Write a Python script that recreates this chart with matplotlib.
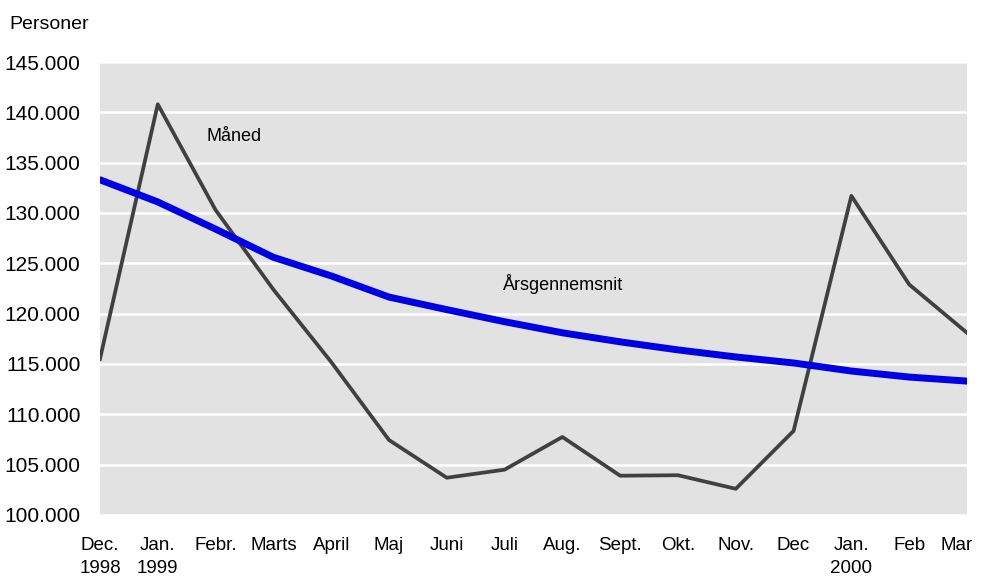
import numpy as np
import matplotlib
matplotlib.use('Agg')
import matplotlib.pyplot as plt
import matplotlib.transforms as mtransforms

plt.rcParams['font.family'] = ['Liberation Sans', 'DejaVu Sans']

# Month labels (x axis)
months = ["Dec.\n1998", "Jan.\n1999", "Febr.", "Marts", "April", "Maj", "Juni",
          "Juli", "Aug.", "Sept.", "Okt.", "Nov.", "Dec", "Jan.\n2000", "Feb", "Mar"]
# Monthly figures (Måned)
maaned = [115500, 140800, 130300, 122400, 115200, 107450, 103700, 104500,
          107750, 103900, 103950, 102600, 108350, 131700, 122900, 118100]
# Yearly average (Årsgennemsnit)
aarsgns = [133300, 131100, 128400, 125600, 123750, 121650, 120400, 119200,
           118100, 117200, 116400, 115700, 115100, 114300, 113700, 113300]

yticks = np.arange(100000, 145001, 5000)

fig = plt.figure(figsize=(9.82, 5.85), dpi=100)
ax = fig.add_axes([0.1018, 0.1197, 0.8829, 0.7743])
ax.set_facecolor('#e2e2e2')
x = np.arange(len(months))
ax.plot(x, maaned, color='#404040', lw=2.7, zorder=3)
ax.plot(x, aarsgns, color='#0000e6', lw=5.0, solid_capstyle='round', zorder=4)

ax.set_xlim(0, len(months) - 1)
ax.set_ylim(100000, 145000)
ax.set_yticks(yticks)
ax.set_yticklabels(["{:,}".format(v).replace(",", ".") for v in yticks], fontsize=15, color='black')
ax.set_xticks(x)
ax.set_xticklabels(months, fontsize=13.5, linespacing=1.45)
ax.tick_params(axis='both', length=0)
ax.tick_params(axis='x', pad=16)
ax.tick_params(axis='y', pad=14)
# last label sits a bit to the left so it stays inside the picture
last = ax.get_xticklabels()[-1]
last.set_transform(last.get_transform() + mtransforms.ScaledTranslation(-10 / 100, 0, fig.dpi_scale_trans))
for yv in yticks:
    ax.axhline(yv, color='white', lw=1.8, zorder=1)
for s in ax.spines.values():
    s.set_visible(False)

ax.text(1.85, 137570, "Måned", fontsize=13, va='center')
ax.text(6.97, 122960, "Årsgennemsnit", fontsize=13, va='center')
fig.text(0.01, 0.958, "Personer", fontsize=14, va='center')

fig.savefig("out.png", dpi=100)
